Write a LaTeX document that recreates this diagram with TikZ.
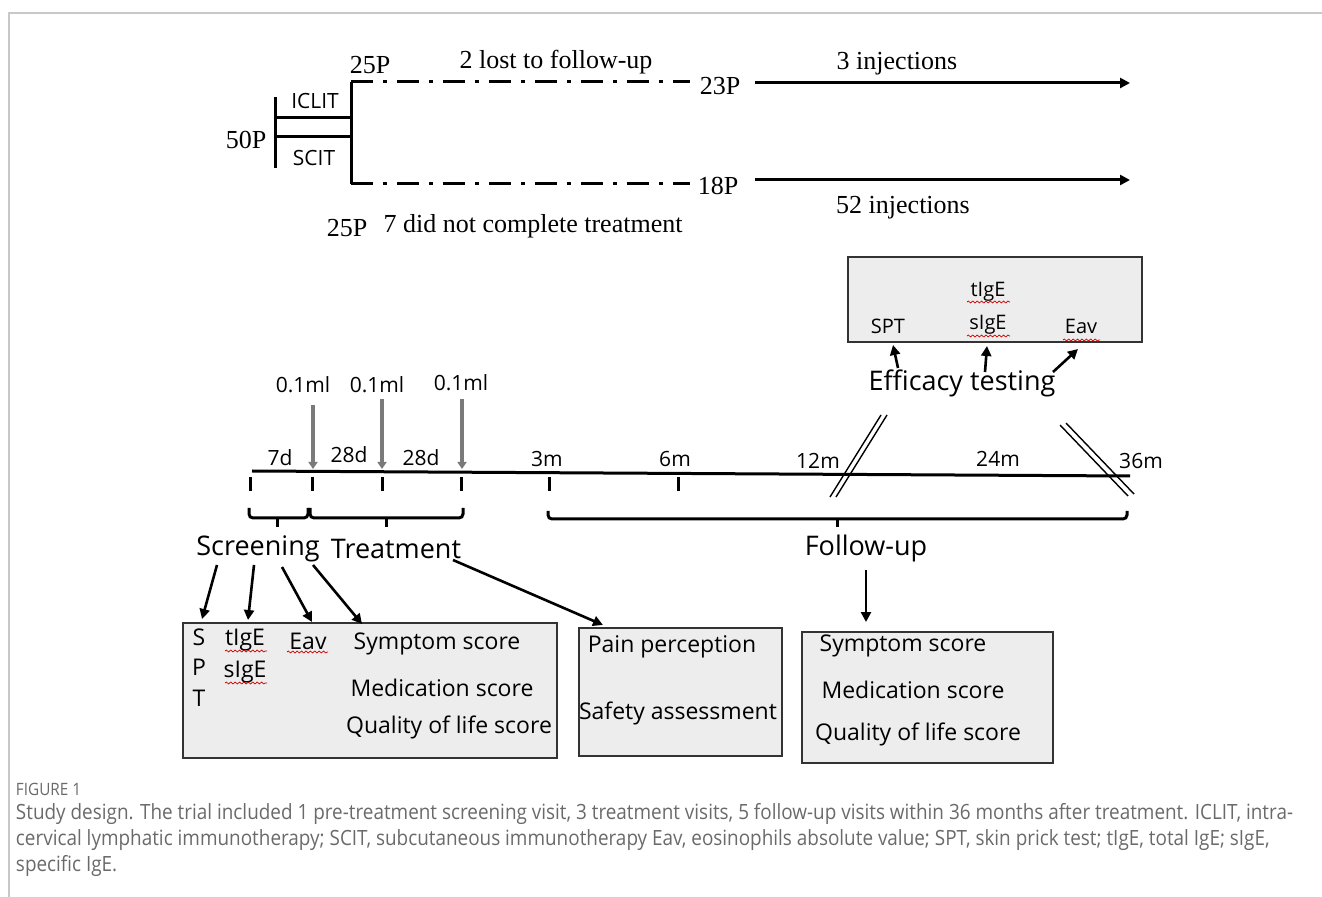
\documentclass[tikz,border=0pt]{standalone}
\usepackage{fontspec}
\setmainfont{Liberation Serif}
\setsansfont{Open Sans}
\newfontfamily\capfont[FakeStretch=0.9]{Open Sans}
\usetikzlibrary{arrows.meta,decorations.pathmorphing}
\definecolor{boxfill}{HTML}{EDEDED}
\definecolor{boxline}{HTML}{333333}
\definecolor{injgray}{HTML}{7A7A7A}
\definecolor{capgray}{HTML}{6A6A6A}
\definecolor{framegray}{HTML}{C8C8C8}
\begin{document}
\begin{tikzpicture}[x=0.5pt,y=-0.5pt,
  every node/.style={inner sep=0pt, outer sep=0pt},
  thickline/.style={line width=1.5pt},
  thinline/.style={line width=0.7pt},
  ser/.style={font=\fontsize{13}{15}\selectfont},
  sm/.style={font=\sffamily\fontsize{10.5}{12}\selectfont},
  big/.style={font=\sffamily\fontsize{13.5}{16}\selectfont},
  boxt/.style={font=\sffamily\fontsize{11.5}{14}\selectfont},
  efft/.style={font=\sffamily\fontsize{10}{12}\selectfont},
  arr/.style={line width=1.5pt,-{Triangle[length=5pt,width=5pt]}},
  sarr/.style={line width=1.3pt,-{Triangle[length=5pt,width=5pt]}},
  injarr/.style={injgray,line width=2pt,-{Triangle[length=3.5pt,width=4.5pt]}},
  box/.style={draw=boxline, fill=boxfill, line width=0.8pt},
  squig/.style={red!80!black, line width=0.35pt, decorate, decoration={snake, amplitude=0.5pt, segment length=2.2pt}},
  dd/.style={line width=1.5pt, dash pattern=on 11pt off 5pt on 2pt off 5pt},
  captext/.style={font=\capfont\fontsize{10.5}{12}\selectfont, text=capgray, anchor=west},
]
\useasboundingbox (0,0) rectangle (1322,897);
% frame
\draw[framegray, line width=0.6pt] (9,897) -- (9,13) -- (1322,13);

% ---------------- top: allocation ----------------
\node[ser] (p50) at (246,140) {50P};
\coordinate (va) at (275,97);
\coordinate (vb) at (275,168);
\coordinate (wa) at (351,82);
\coordinate (wb) at (351,184);
\draw[thickline] (va) -- (vb);
\draw[thickline] (275,118) -- (351,118);
\draw[thickline] (275,137) -- (351,137);
\draw[thickline] (wa) -- (wb);
\node[sm] (iclit) at (315,101) {ICLIT};
\node[sm] (scit) at (314,158) {SCIT};
\node[ser] (p25a) at (370,65) {25P};
\node[ser] (lost) at (556,62) {2 lost to follow-up};
\node[ser] (p23) at (720,86) {23P};
\node[ser] (p18) at (718,186) {18P};
\coordinate (da) at (690,82);
\coordinate (db) at (690,184);
\draw[dd] (wa) -- (da);
\draw[dd] (wb) -- (db);
\coordinate (a1s) at (755,83);
\coordinate (a1e) at (1130,83);
\coordinate (a2s) at (755,180);
\coordinate (a2e) at (1130,180);
\draw[arr] (a1s) -- (a1e);
\draw[arr] (a2s) -- (a2e);
\node[ser] (inj3) at (897,64) {3 injections};
\node[ser] (inj52) at (903,208) {52 injections};
\node[ser] (p25b) at (347,228) {25P};
\node[ser] (notc) at (533,226) {7 did not complete treatment};

% ---------------- efficacy box ----------------
\node[box, minimum width=147pt, minimum height=42.5pt] (eff) at (995,299.5) {};
\node[efft] (e-tige) at (988,292) {tIgE};
\node[efft] (e-spt) at (888,326) {SPT};
\node[efft] (e-sige) at (988,325) {sIgE};
\node[efft] (e-eav) at (1081,326) {Eav};
\draw[squig] (967,302) -- (1010,302);
\draw[squig] (967,336) -- (1010,336);
\draw[squig] (1063,340) -- (1100,340);
\node[big] (efftest) at (962,383) {Efficacy testing};
\coordinate (ef1) at (898,368);
\coordinate (ef2) at (985,372);
\coordinate (ef3) at (1053,372);
\coordinate (eh1) at (893,345);
\coordinate (eh2) at (987,346);
\coordinate (eh3) at (1078,349);
\draw[sarr] (ef1) -- (eh1);
\draw[sarr] (ef2) -- (eh2);
\draw[sarr] (ef3) -- (eh3);

% ---------------- timeline ----------------
\coordinate (tl0) at (252,471);
\coordinate (tl1) at (1130,476);
\draw[thickline] (tl0) -- (tl1);
\foreach \x in {250,312,382,461,549,678}
  \draw[thickline] (\x,477) -- (\x,491);
\node[sm] (d7) at (280,458) {7d};
\node[sm] (d28a) at (349,455) {28d};
\node[sm] (d28b) at (421,458) {28d};
\node[sm] (m3) at (547,459) {3m};
\node[sm] (m6) at (675,459) {6m};
\node[sm] (m12) at (818,461) {12m};
\node[sm] (m24) at (998,459) {24m};
\node[sm] (m36) at (1141,461) {36m};
% injections
\node[sm] (ml1) at (303,385) {0.1ml};
\node[sm] (ml2) at (377,385) {0.1ml};
\node[sm] (ml3) at (461,383) {0.1ml};
\draw[injarr] (313,405) -- (313,469);
\draw[injarr] (382,399) -- (382,469);
\draw[injarr] (462,399) -- (462,469);
% breaks
\draw[thinline] (830,497) -- (881,415);
\draw[thinline] (836,497) -- (887,415);
\draw[thinline] (1060,425) -- (1128,496);
\draw[thinline] (1066,423) -- (1134,494);
% braces
\draw[thickline, rounded corners=2pt] (249,508) -- (249,518) -- (308,518) -- (308,508);
\draw[thickline] (277,518) -- (277,527);
\draw[thickline, rounded corners=2pt] (310,508) -- (310,518) -- (463,518) -- (463,508);
\draw[thickline] (386,518) -- (386,527);
\draw[thickline, rounded corners=2pt] (548,511) -- (548,519) -- (1127,519) -- (1127,511);
\draw[thickline] (837,519) -- (837,527);
\node[big] (scr) at (258,549) {Screening};
\node[big] (trt) at (396,549) {Treatment};
\node[big] (fu) at (866,548) {Follow-up};

% ---------------- bottom boxes ----------------
\node[box, minimum width=187pt, minimum height=67.5pt] (b1) at (370,690.5) {};
\node[box, minimum width=101.5pt, minimum height=64pt] (b2) at (680.5,692) {};
\node[box, minimum width=125.5pt, minimum height=65.5pt] (b3) at (927.5,697.5) {};

\node[boxt] (s1) at (199,637) {S};
\node[boxt] (s2) at (199,667) {P};
\node[boxt] (s3) at (199,698) {T};
\node[boxt] (b-tige) at (245,640) {tIgE};
\node[boxt] (b-sige) at (245,672) {sIgE};
\node[boxt] (b-eav) at (308,641) {Eav};
\draw[squig] (225,651) -- (267,651);
\draw[squig] (225,683) -- (267,683);
\draw[squig] (287,652) -- (328,652);
\node[boxt] (b1s) at (437,644) {Symptom score};
\node[boxt] (b1m) at (442,688) {Medication score};
\node[boxt] (b1q) at (449,727) {Quality of life score};

\node[boxt] (b2p) at (672,647) {Pain perception};
\node[boxt] (b2s) at (678,713) {Safety assessment};

\node[boxt] (b3s) at (903,646) {Symptom score};
\node[boxt] (b3m) at (913,690) {Medication score};
\node[boxt] (b3q) at (918,734) {Quality of life score};

% arrows from labels
\coordinate (sa1) at (217,565); \coordinate (sh1) at (202,619);
\coordinate (sa2) at (254,565); \coordinate (sh2) at (248,620);
\coordinate (sa3) at (282,567); \coordinate (sh3) at (312,622);
\coordinate (sa4) at (313,565); \coordinate (sh4) at (362,624);
\coordinate (ta) at (453,560); \coordinate (th) at (603,625);
\coordinate (fa) at (866,570); \coordinate (fh) at (866,622);
\draw[sarr] (sa1) -- (sh1);
\draw[sarr] (sa2) -- (sh2);
\draw[sarr] (sa3) -- (sh3);
\draw[sarr] (sa4) -- (sh4);
\draw[sarr] (ta) -- (th);
\draw[sarr] (fa) -- (fh);

% ---------------- caption ----------------
\node[captext, font=\capfont\fontsize{8.5}{10}\selectfont] (figlab) at (16,789) {FIGURE 1};
\node[captext] (c1) at (16,814) {Study design. The trial included 1 pre-treatment screening visit, 3 treatment visits, 5 follow-up visits within 36 months after treatment. ICLIT, intra-};
\node[captext] (c2) at (16,840) {cervical lymphatic immunotherapy; SCIT, subcutaneous immunotherapy Eav, eosinophils absolute value; SPT, skin prick test; tIgE, total IgE; sIgE,};
\node[captext] (c3) at (16,866) {specific IgE.};
\end{tikzpicture}
\end{document}
